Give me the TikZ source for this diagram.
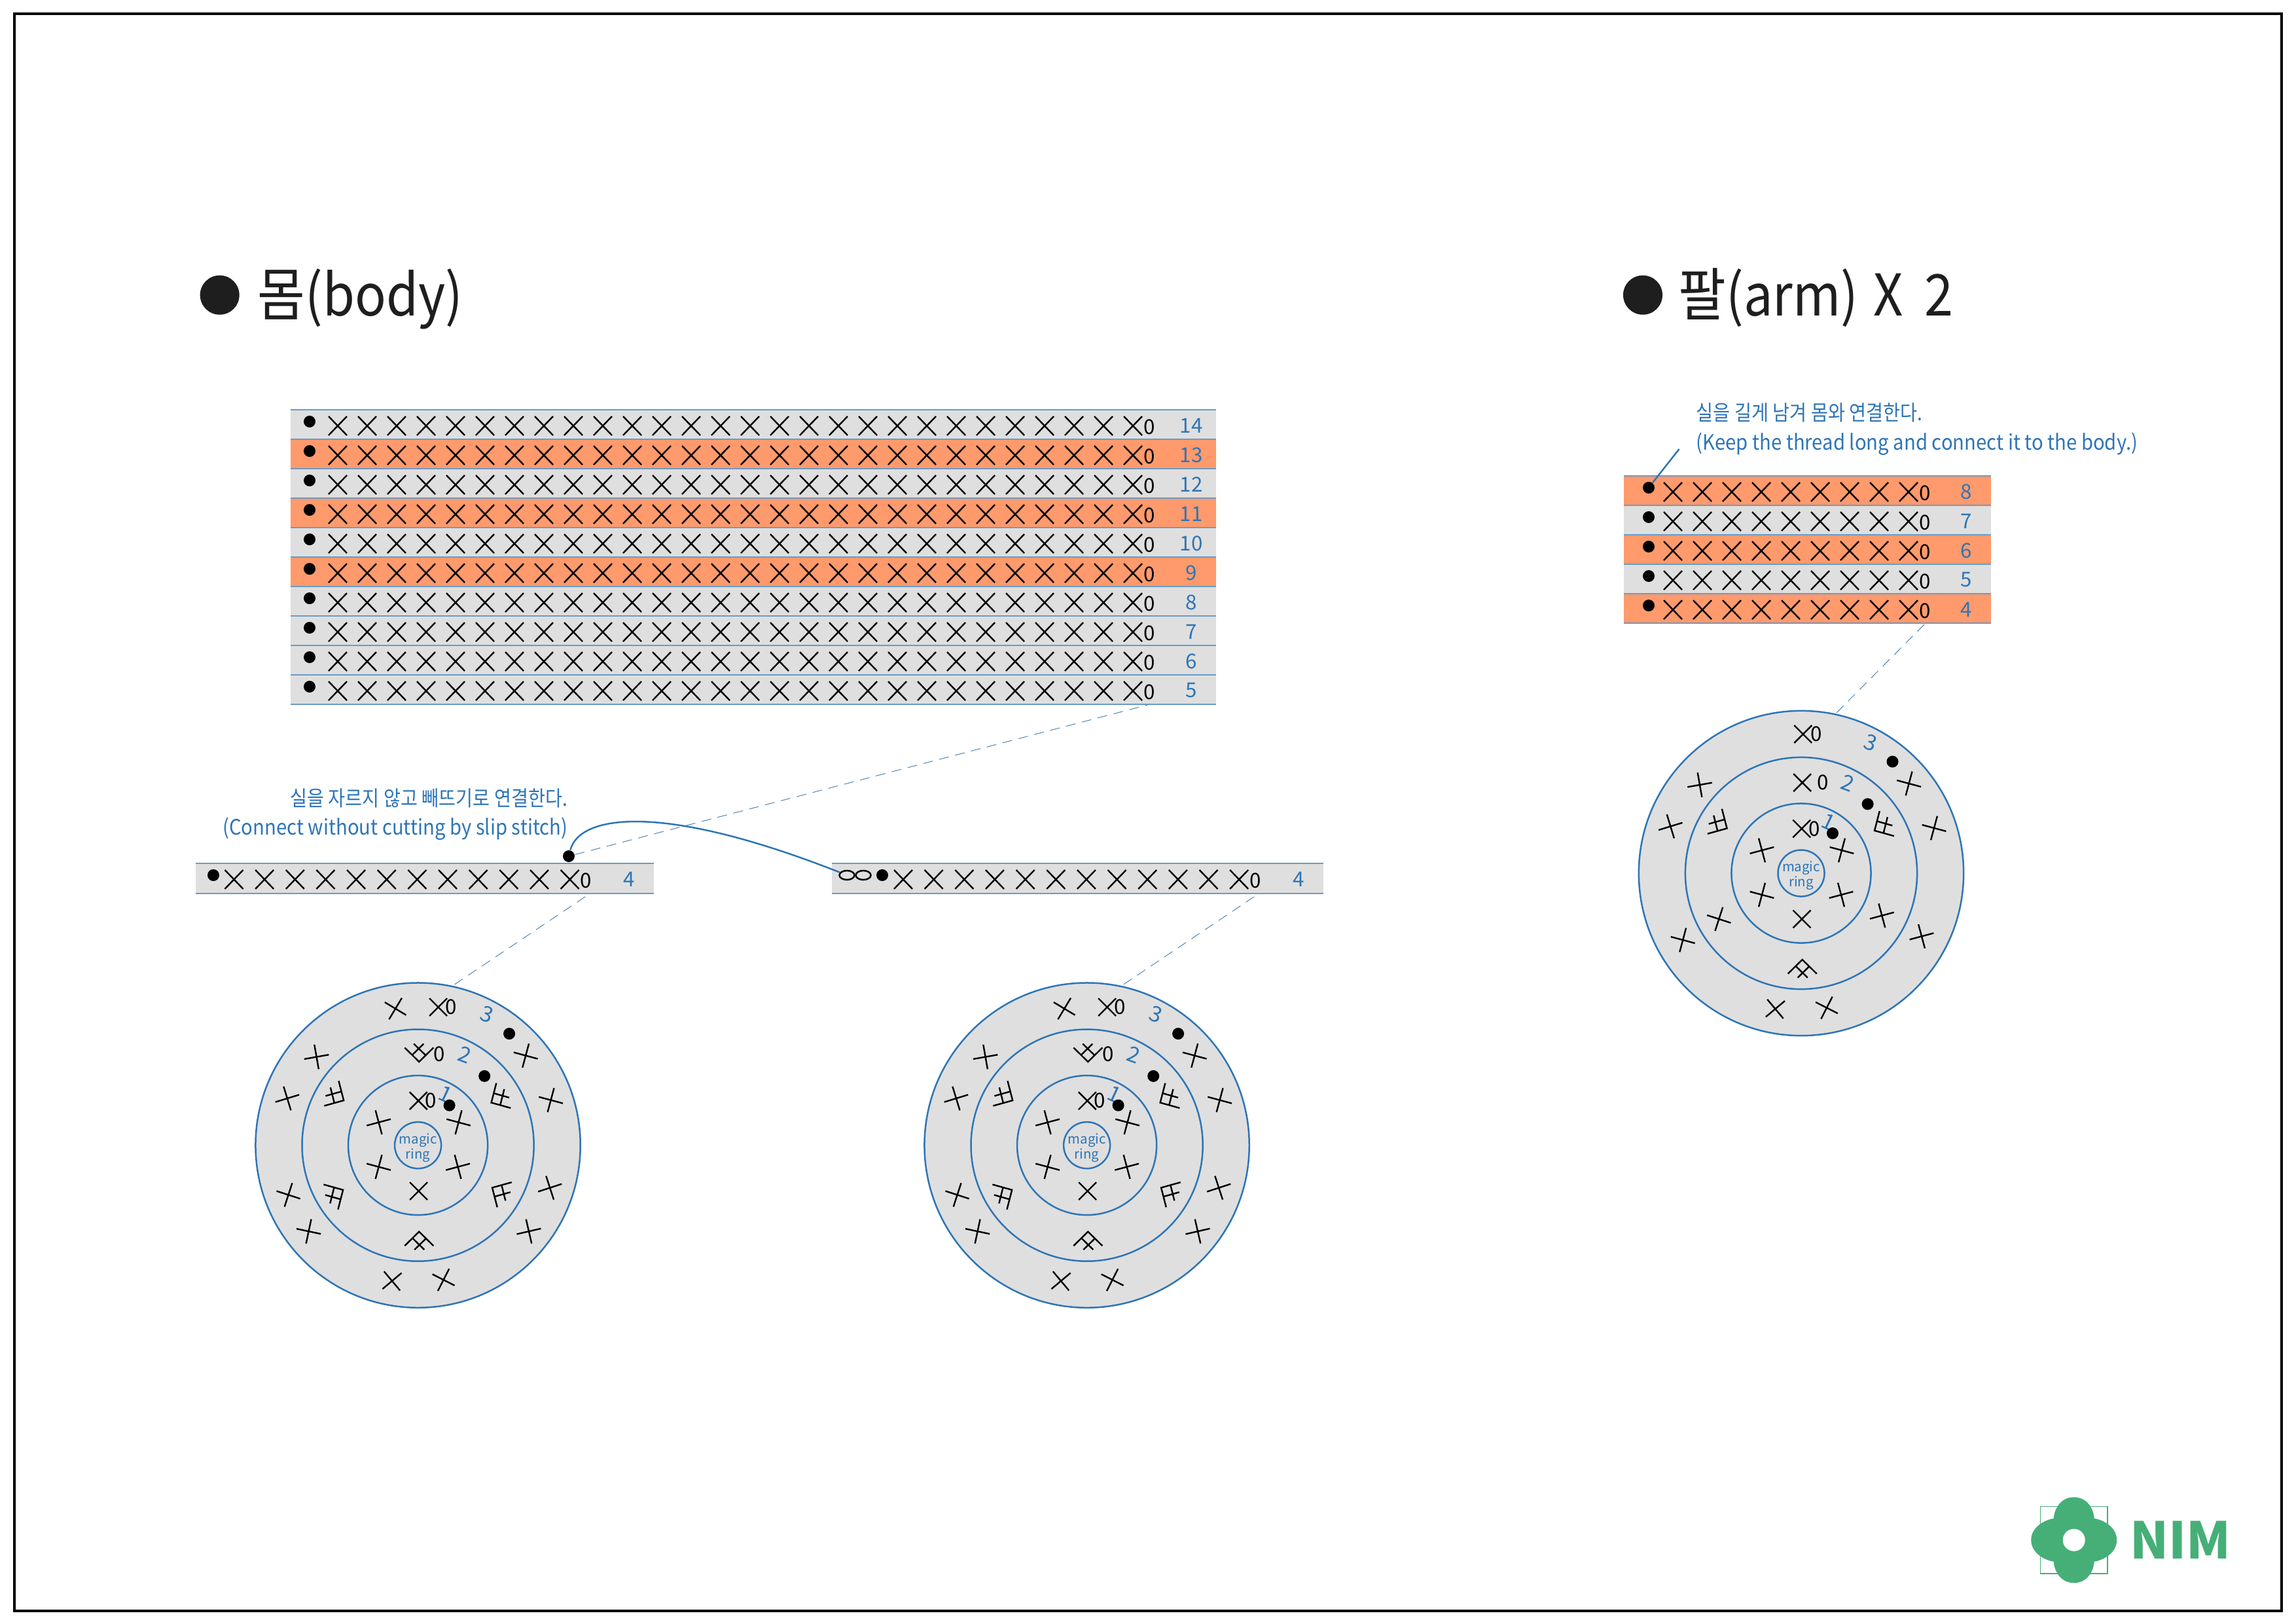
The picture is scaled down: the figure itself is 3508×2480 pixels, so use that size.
\documentclass[tikz,border=0pt]{standalone}
\usepackage{fontspec}
\setmainfont{Noto Sans CJK KR}
\newfontfamily\notefont[FakeStretch=0.875]{Noto Sans CJK KR}
\newfontfamily\noteenfont[FakeStretch=0.905]{Noto Sans CJK KR}
\newfontfamily\titlefont[FakeStretch=0.9]{Noto Sans CJK KR}
\usetikzlibrary{shapes.geometric}
\definecolor{ringblue}{HTML}{2E75B6}
\definecolor{rowline}{HTML}{6C9BC4}
\definecolor{guideblue}{HTML}{4F86B0}
\definecolor{rowgrey}{HTML}{DFDFDF}
\definecolor{roworange}{HTML}{FF9A6C}
\definecolor{inkdark}{HTML}{1E1E1E}
\definecolor{nimgreen}{HTML}{46AF78}
\tikzset{
  stitchline/.style = {black, line width = 0.024cm},
  rowrule/.style = {rowline, line width = 0.025cm},
  rowdot/.style = {circle, fill = black, inner sep = 0, minimum size = 0.18cm},
  rownum/.style = {text = ringblue, inner sep = 0, font = \fontsize{8.9}{10}\selectfont},
  rowzero/.style = {text = black, inner sep = 0, font = \fontsize{8.9}{10}\selectfont},
  ringnum/.style = {text = ringblue, inner sep = 0, font = \fontsize{9.4}{10}\selectfont},
  ringdisk/.style = {circle, draw = ringblue, line width = 0.025cm, inner sep = 0, outer sep = 0},
  note/.style = {text = ringblue, inner sep = 0, font = \notefont\fontsize{9.2}{11}\selectfont},
  noteen/.style = {note, font = \noteenfont\fontsize{9.2}{11}\selectfont},
  heading/.style = {text = inkdark, inner sep = 0, anchor = base west, font = \titlefont\fontsize{25}{30}\selectfont},
  bigdot/.style = {circle, fill = inkdark, inner sep = 0, minimum size = 0.6cm},
  guide/.style = {guideblue, line width = 0.01cm, dash pattern = on 0.15cm off 0.1cm},
  thread/.style = {ringblue, line width = 0.025cm},
  loopst/.style = {ellipse, draw = black, line width = 0.025cm, inner sep = 0, minimum width = 0.23cm, minimum height = 0.14cm},
}
% #1 name, #2 left, #3 right, #4 top, #5 fill, #6 dot x, #7 first stitch x, #8 last index, #9 number
\newcommand{\stitchrow}[9]{
  \fill[#5] (#2, #4) rectangle (#3, #4 + \rowh);
  \draw[rowrule] (#2, #4) -- (#3, #4);
  \draw[rowrule] (#2, #4 + \rowh) -- (#3, #4 + \rowh);
  \node[rowdot] (#1-dot) at (#6, #4 + 18) {};
  \foreach \i in {0,...,#8} {
    \draw[stitchline] (#7 + \i*\rowstep - 14, #4 + 10) -- (#7 + \i*\rowstep + 14, #4 + 39)
      (#7 + \i*\rowstep - 14, #4 + 39) -- (#7 + \i*\rowstep + 14, #4 + 10);
  }
  \node[rowzero] (#1-zero) at (#7 + #8*\rowstep + 25, #4 + 26) {0};
  \node[rownum] (#1-num) at (#3 - 38, #4 + 24) {#9};
}
\newcommand{\xstitch}[3]{\draw[stitchline, shift = {(#1, #2)}, rotate = #3] (-19, 0) -- (19, 0) (0, -19) -- (0, 19);}
\newcommand{\incstitch}[3]{\draw[stitchline, shift = {(#1, #2)}, rotate = #3]
  (-22, -8.6) -- (0, 13) -- (22, -8.6) (-8, -14.5) -- (10, 3) (7, -14.5) -- (-11.4, 3.4);}
\newcommand{\ringcore}{
  \node[ringdisk, fill = rowgrey, minimum size = 4.96cm] (outer) at (0, 0) {};
  \node[ringdisk, minimum size = 3.54cm] (second) at (0, 0) {};
  \node[ringdisk, minimum size = 2.13cm] (third) at (0, 0) {};
  \node[ringdisk, minimum size = 0.71cm] (magic) at (0, 0) {};
  \node[align = center, text = ringblue, inner sep = 0,
    font = \fontsize{5.8}{6.5}\selectfont] (magictext) at (0, 4) {magic\\ring};
  \xstitch{0.7}{-68}{45}
  \node[rowzero] (zeroa) at (20, -68) {0};
  \xstitch{62}{-35}{-15}
  \xstitch{61}{33}{15}
  \xstitch{1}{70}{45}
  \xstitch{-60}{33}{-15}
  \xstitch{-60}{-35}{15}
  \node[ringnum, rotate = -25] (numa) at (42, -78) {1};
  \node[ringnum, rotate = -20] (numb) at (71.6, -138) {2};
  \node[ringnum, rotate = -20] (numc) at (106, -199.7) {3};
  \node[rowdot] (dota) at (48, -61) {};
  \node[rowdot] (dotb) at (101.6, -105.7) {};
  \node[rowdot] (dotc) at (139.5, -170.5) {};
  \incstitch{123.3}{-71.6}{-60}
  \incstitch{-124.7}{-75}{60}
  \incstitch{1.7}{145}{180}
  \xstitch{164.6}{-137}{-15}
  \xstitch{203}{-69}{-15}
  \xstitch{-155}{-135}{10}
  \xstitch{-199.7}{-71.6}{17}
  \xstitch{39}{205.6}{-27}
  \xstitch{-39.6}{207.3}{40}
}
\newcommand{\bodyring}{
  \ringcore
  \xstitch{-34.4}{-208.7}{-31}
  \xstitch{31}{-211}{45}
  \node[rowzero] (zeroc) at (51, -211) {0};
  \incstitch{1.7}{-140.5}{0}
  \node[rowzero] (zerob) at (32.7, -138.8) {0};
  \incstitch{124.7}{71.3}{-120}
  \incstitch{-125.7}{74.7}{120}
  \xstitch{201.6}{65}{18}
  \xstitch{169.4}{131.5}{13}
  \xstitch{-167}{131.5}{-12}
  \xstitch{-198}{75.8}{-18}
}
\begin{document}
\begin{tikzpicture}[x = 0.01cm, y = -0.01cm]
  \useasboundingbox (0, 0) rectangle (3508, 2480);
  \draw[black, line width = 0.035cm] (22, 21) rectangle (3486, 2461);

  \node[bigdot] (bodymark) at (335.7, 450.7) {};
  \node[heading] (bodytitle) at (393, 482) {몸(body)};
  \node[bigdot] (armmark) at (2510, 450.7) {};
  \node[heading] (armtitle) at (2564, 482) {팔(arm)\hspace{0.05cm} X\hspace{0.15cm} 2};

  \def\rowh{45}
  \def\rowstep{45}
  \foreach \rowy/\rowfill/\rownumber in {626/rowgrey/14, 671/roworange/13, 716/rowgrey/12, 761/roworange/11, 806/rowgrey/10,
    851/roworange/9, 896/rowgrey/8, 941/rowgrey/7, 986/rowgrey/6, 1031/rowgrey/5} {
    \stitchrow{body\rownumber}{444}{1858}{\rowy}{\rowfill}{473}{516}{27}{\rownumber}
  }
  \foreach \rowy/\rowfill/\rownumber in {727/roworange/8, 772/rowgrey/7, 817/roworange/6, 862/rowgrey/5, 907/roworange/4} {
    \stitchrow{arm\rownumber}{2481}{3042}{\rowy}{\rowfill}{2519}{2556}{8}{\rownumber}
  }
  \def\rowh{46}
  \def\rowstep{46.65}
  \stitchrow{lefta}{299}{999}{1319}{rowgrey}{326}{357.5}{11}{4}
  \stitchrow{righta}{1271}{2022}{1319}{rowgrey}{1348}{1380}{11}{4}

  \node[rowdot] (slipdot) at (869, 1308) {};
  \node[loopst] (loopa) at (1294, 1337) {};
  \node[loopst] (loopb) at (1319, 1337) {};

  \node[note, anchor = east] (slipko) at (868, 1219) {실을 자르지 않고 빼뜨기로 연결한다.};
  \node[noteen, anchor = east] (slipen) at (868, 1266) {(Connect without cutting by slip stitch)};
  \node[note, anchor = west] (armko) at (2591, 630) {실을 길게 남겨 몸와 연결한다.};
  \node[noteen, anchor = west] (armen) at (2591, 678) {(Keep the thread long and connect it to the body.)};

  \begin{scope}[shift = {(638.6, 1749.6)}, name prefix = ringa-]
    \bodyring
  \end{scope}
  \begin{scope}[shift = {(1660.6, 1749.6)}, name prefix = ringb-]
    \bodyring
  \end{scope}
  \begin{scope}[shift = {(2752, 1334)}, name prefix = ringc-]
    \ringcore
    \xstitch{2.8}{-212.5}{45}
    \node[rowzero] (zeroc) at (23.4, -212.5) {0};
    \xstitch{1.7}{-138.4}{45}
    \node[rowzero] (zerob) at (32.7, -138.4) {0};
    \xstitch{123.3}{64.7}{15}
    \xstitch{-125.7}{70}{-18}
    \xstitch{184}{96.4}{15}
    \xstitch{-180.8}{102}{-15}
  \end{scope}

  \coordinate (bodyfoot) at (1753, 1077);
  \coordinate (leftfoot) at (894, 1370);
  \coordinate (rightfoot) at (1916, 1370);
  \coordinate (armfoot) at (2940, 954);
  \coordinate (armlead) at (2565.5, 686);
  \draw[guide] (slipdot) -- (bodyfoot);
  \draw[guide] (leftfoot) -- (ringa-outer.78);
  \draw[guide] (rightfoot) -- (ringb-outer.78);
  \draw[guide] (armfoot) -- (ringc-outer.78);
  \draw[thread] (armlead) -- (arm8-dot);
  \draw[thread] (slipdot) .. controls (885, 1245) and (1010, 1225) .. (loopa);

  \begin{scope}[shift = {(3168.7, 2352.7)}]
    \draw[nimgreen, line width = 0.015cm] (-51.3, -51.3) rectangle (51.3, 51.3);
    \fill[nimgreen] (0, -65.5) .. controls (20, -65.5) and (30, -48) .. (31, -33)
      .. controls (48, -30) and (65.5, -18) .. (65.5, 0)
      .. controls (65.5, 18) and (48, 30) .. (31, 33)
      .. controls (30, 48) and (20, 65.5) .. (0, 65.5)
      .. controls (-20, 65.5) and (-30, 48) .. (-31, 33)
      .. controls (-48, 30) and (-65.5, 18) .. (-65.5, 0)
      .. controls (-65.5, -18) and (-48, -30) .. (-31, -33)
      .. controls (-30, -48) and (-20, -65.5) .. (0, -65.5) -- cycle;
    \node[circle, fill = white, inner sep = 0, minimum size = 0.34cm] (nimhole) at (0, 0) {};
  \end{scope}
  \node[text = nimgreen, inner sep = 0, anchor = base west, font = \fontsize{22}{26}\selectfont\bfseries] (nimtext) at (3254, 2381.7) {NIM};
\end{tikzpicture}
\end{document}
